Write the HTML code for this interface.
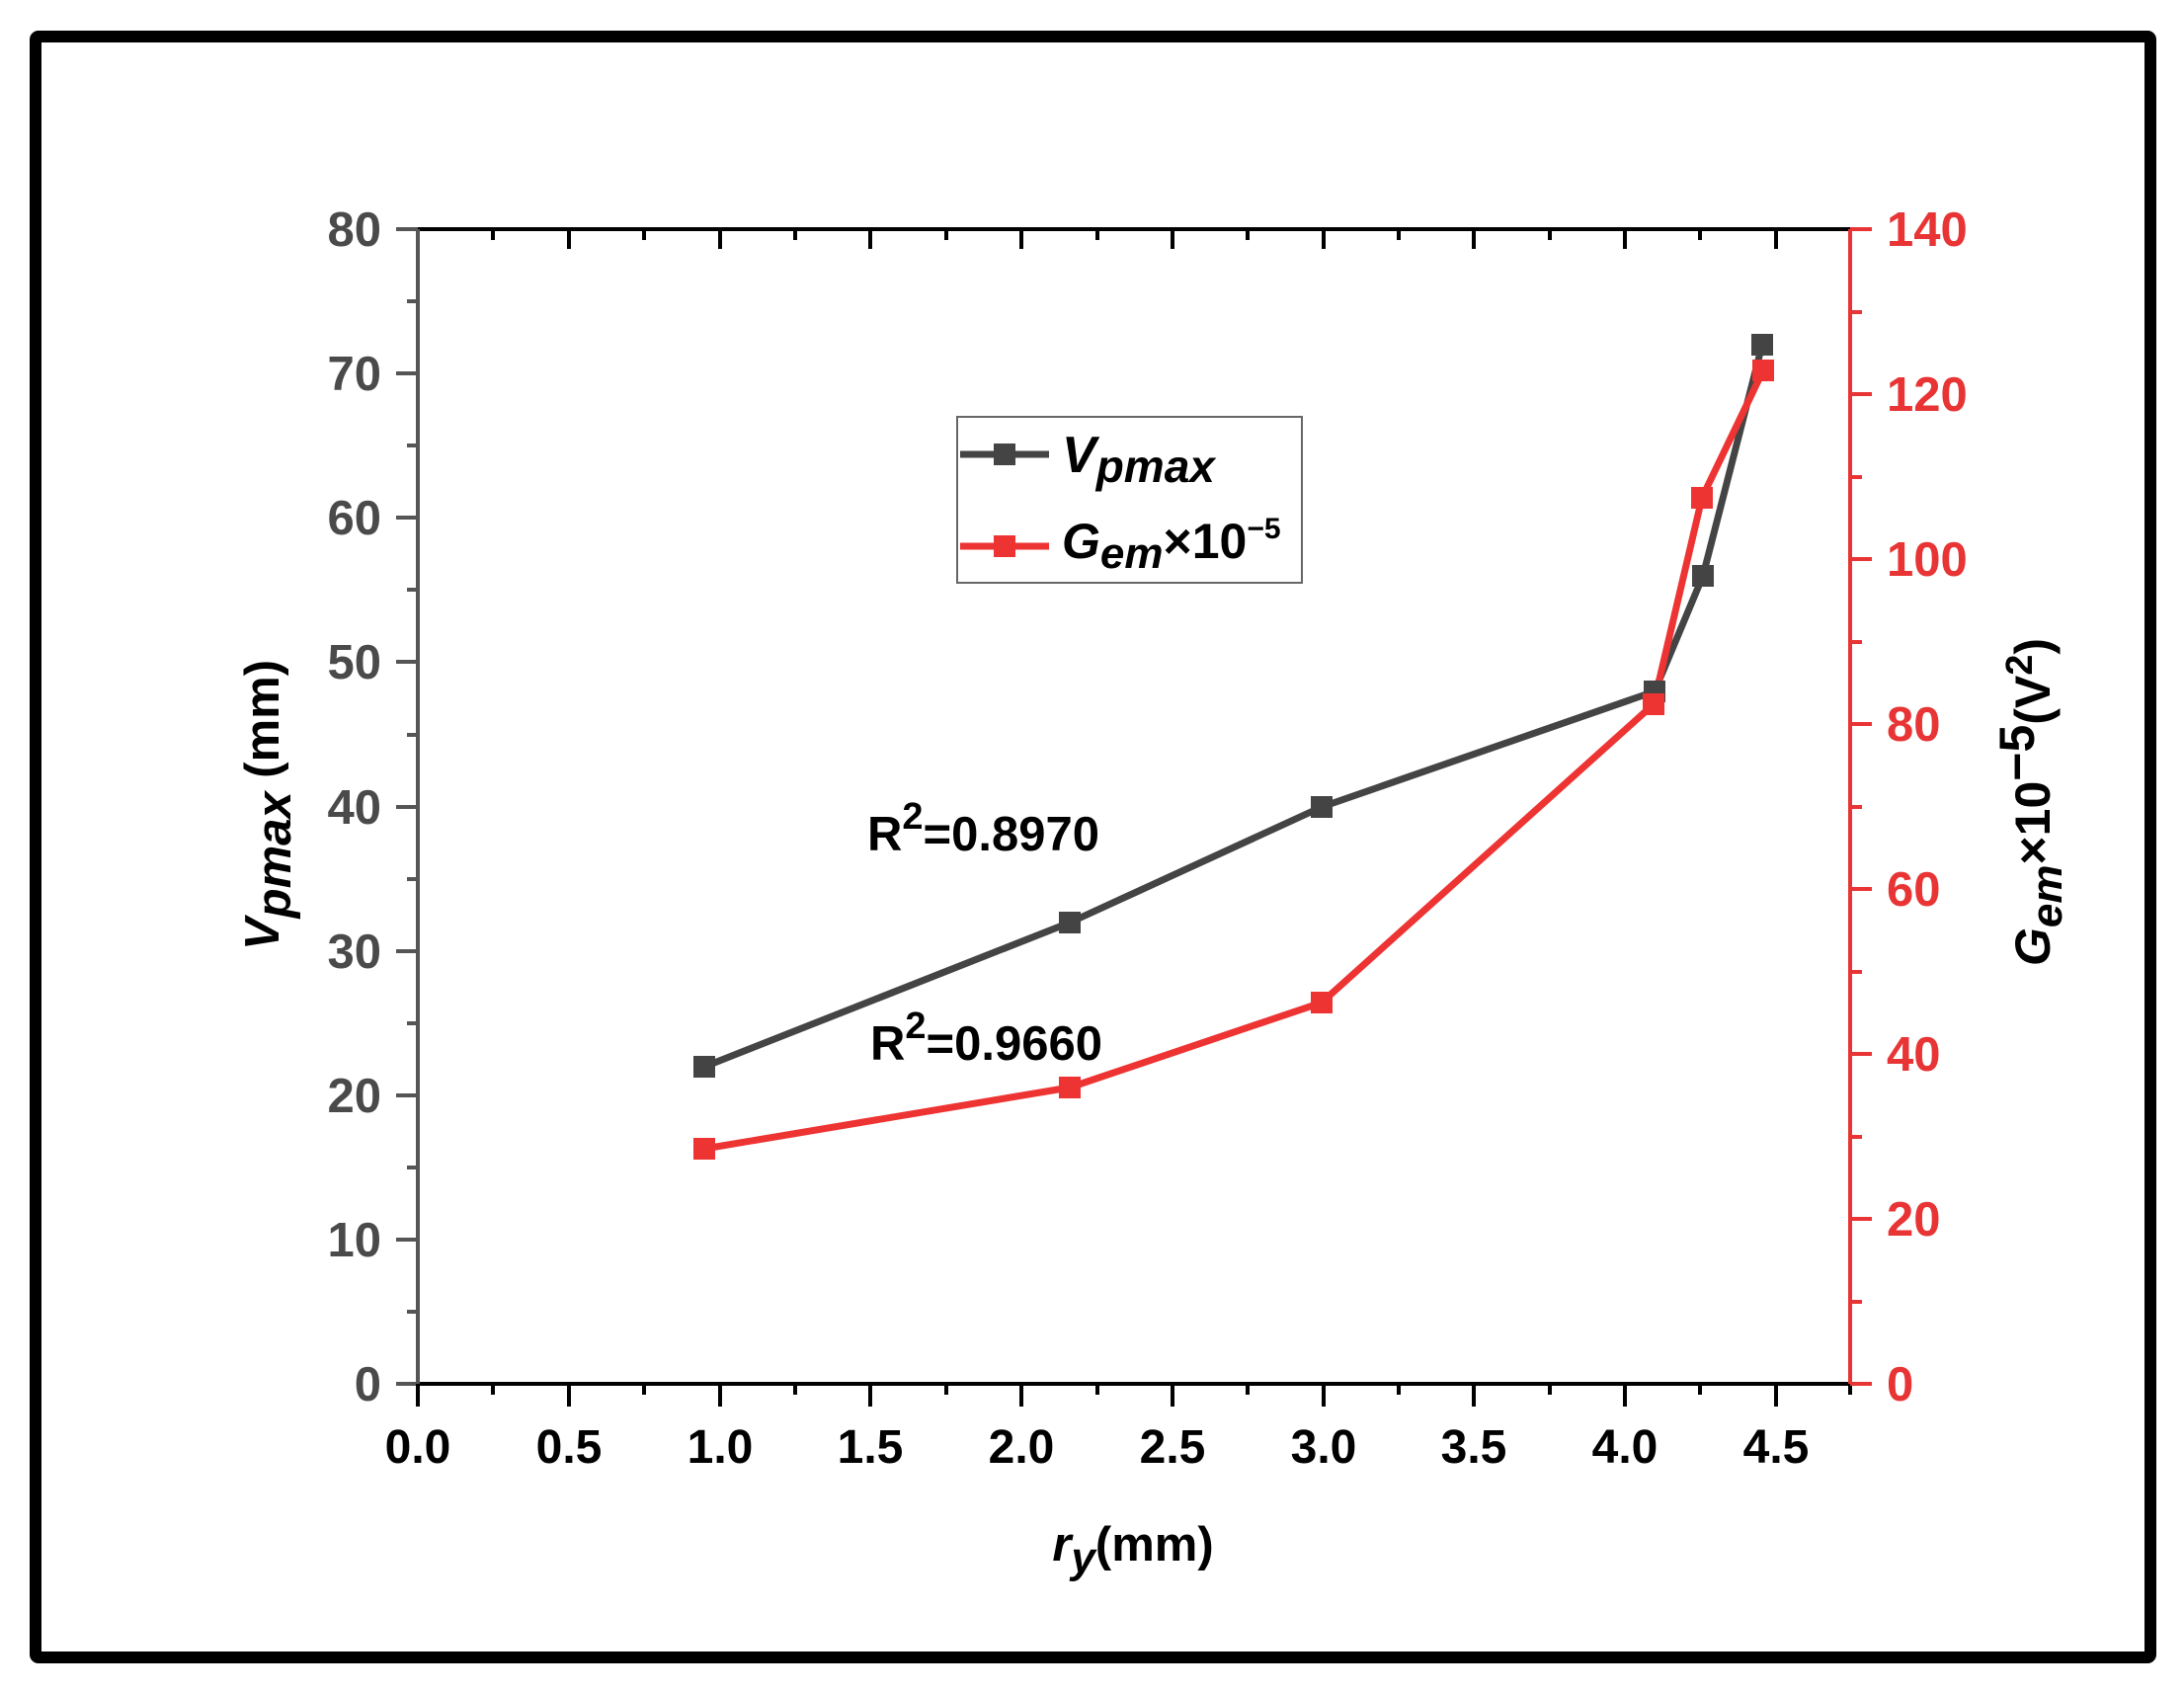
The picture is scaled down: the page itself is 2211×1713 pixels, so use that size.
<!DOCTYPE html>
<html><head><meta charset="utf-8"><style>html,body{margin:0;padding:0;background:#fff}svg{display:block}</style></head>
<body>
<svg width="2211" height="1713" viewBox="0 0 2211 1713" xmlns="http://www.w3.org/2000/svg" font-family="Liberation Sans, Arial, sans-serif" font-weight="bold">
<rect x="0" y="0" width="2211" height="1713" fill="#fff"/>
<rect x="36" y="37" width="2141" height="1641" fill="none" stroke="#000" stroke-width="12" rx="3"/>

<g stroke-width="4">
<line x1="423" y1="232" x2="1873" y2="232" stroke="#000"/>
<line x1="423" y1="1401" x2="1873" y2="1401" stroke="#000"/>
<line x1="423" y1="232" x2="423" y2="1401" stroke="#555"/>
<line x1="1873" y1="232" x2="1873" y2="1401" stroke="#e83434"/>
</g>

<g stroke="#555" stroke-width="4">
<line x1="401" y1="232" x2="423" y2="232"/><line x1="401" y1="378" x2="423" y2="378"/><line x1="401" y1="524" x2="423" y2="524"/><line x1="401" y1="670" x2="423" y2="670"/><line x1="401" y1="817" x2="423" y2="817"/><line x1="401" y1="963" x2="423" y2="963"/><line x1="401" y1="1109" x2="423" y2="1109"/><line x1="401" y1="1255" x2="423" y2="1255"/><line x1="401" y1="1401" x2="423" y2="1401"/>
<line x1="412" y1="305" x2="423" y2="305"/><line x1="412" y1="451" x2="423" y2="451"/><line x1="412" y1="597" x2="423" y2="597"/><line x1="412" y1="744" x2="423" y2="744"/><line x1="412" y1="890" x2="423" y2="890"/><line x1="412" y1="1036" x2="423" y2="1036"/><line x1="412" y1="1182" x2="423" y2="1182"/><line x1="412" y1="1328" x2="423" y2="1328"/>
</g>
<g fill="#4a4a4a" font-size="49" text-anchor="end">
<text x="386" y="249">80</text><text x="386" y="395">70</text><text x="386" y="541">60</text><text x="386" y="687">50</text><text x="386" y="834">40</text><text x="386" y="980">30</text><text x="386" y="1126">20</text><text x="386" y="1272">10</text><text x="386" y="1418">0</text>
</g>

<g stroke="#000" stroke-width="4">
<line x1="423" y1="1401" x2="423" y2="1424"/><line x1="576" y1="1401" x2="576" y2="1424"/><line x1="729" y1="1401" x2="729" y2="1424"/><line x1="881" y1="1401" x2="881" y2="1424"/><line x1="1034" y1="1401" x2="1034" y2="1424"/><line x1="1187" y1="1401" x2="1187" y2="1424"/><line x1="1340" y1="1401" x2="1340" y2="1424"/><line x1="1492" y1="1401" x2="1492" y2="1424"/><line x1="1645" y1="1401" x2="1645" y2="1424"/><line x1="1798" y1="1401" x2="1798" y2="1424"/>
<line x1="499" y1="1401" x2="499" y2="1412"/><line x1="652" y1="1401" x2="652" y2="1412"/><line x1="805" y1="1401" x2="805" y2="1412"/><line x1="958" y1="1401" x2="958" y2="1412"/><line x1="1111" y1="1401" x2="1111" y2="1412"/><line x1="1263" y1="1401" x2="1263" y2="1412"/><line x1="1416" y1="1401" x2="1416" y2="1412"/><line x1="1569" y1="1401" x2="1569" y2="1412"/><line x1="1721" y1="1401" x2="1721" y2="1412"/><line x1="1873" y1="1401" x2="1873" y2="1412"/>
<line x1="576" y1="232" x2="576" y2="252"/><line x1="729" y1="232" x2="729" y2="252"/><line x1="881" y1="232" x2="881" y2="252"/><line x1="1034" y1="232" x2="1034" y2="252"/><line x1="1187" y1="232" x2="1187" y2="252"/><line x1="1340" y1="232" x2="1340" y2="252"/><line x1="1492" y1="232" x2="1492" y2="252"/><line x1="1645" y1="232" x2="1645" y2="252"/><line x1="1798" y1="232" x2="1798" y2="252"/>
<line x1="499" y1="232" x2="499" y2="243"/><line x1="652" y1="232" x2="652" y2="243"/><line x1="805" y1="232" x2="805" y2="243"/><line x1="958" y1="232" x2="958" y2="243"/><line x1="1111" y1="232" x2="1111" y2="243"/><line x1="1263" y1="232" x2="1263" y2="243"/><line x1="1416" y1="232" x2="1416" y2="243"/><line x1="1569" y1="232" x2="1569" y2="243"/><line x1="1721" y1="232" x2="1721" y2="243"/>
</g>
<g fill="#000" font-size="48" text-anchor="middle">
<text x="423" y="1481">0.0</text><text x="576" y="1481">0.5</text><text x="729" y="1481">1.0</text><text x="881" y="1481">1.5</text><text x="1034" y="1481">2.0</text><text x="1187" y="1481">2.5</text><text x="1340" y="1481">3.0</text><text x="1492" y="1481">3.5</text><text x="1645" y="1481">4.0</text><text x="1798" y="1481">4.5</text>
</g>

<g stroke="#e83434" stroke-width="4">
<line x1="1873" y1="232" x2="1895" y2="232"/><line x1="1873" y1="399" x2="1895" y2="399"/><line x1="1873" y1="566" x2="1895" y2="566"/><line x1="1873" y1="733" x2="1895" y2="733"/><line x1="1873" y1="900" x2="1895" y2="900"/><line x1="1873" y1="1067" x2="1895" y2="1067"/><line x1="1873" y1="1234" x2="1895" y2="1234"/><line x1="1873" y1="1401" x2="1895" y2="1401"/>
<line x1="1873" y1="316" x2="1885" y2="316"/><line x1="1873" y1="483" x2="1885" y2="483"/><line x1="1873" y1="650" x2="1885" y2="650"/><line x1="1873" y1="817" x2="1885" y2="817"/><line x1="1873" y1="984" x2="1885" y2="984"/><line x1="1873" y1="1151" x2="1885" y2="1151"/><line x1="1873" y1="1318" x2="1885" y2="1318"/>
</g>
<g fill="#e83434" font-size="49">
<text x="1910" y="249">140</text><text x="1910" y="416">120</text><text x="1910" y="583">100</text><text x="1910" y="750">80</text><text x="1910" y="917">60</text><text x="1910" y="1084">40</text><text x="1910" y="1251">20</text><text x="1910" y="1418">0</text>
</g>

<polyline points="713,1080 1083,934 1338,817 1675,700 1724,583 1784,349" fill="none" stroke="#444" stroke-width="7" stroke-linejoin="round"/>
<polyline points="713,1163 1083,1101 1338,1015 1674,713 1723,504 1785,375" fill="none" stroke="#ee3333" stroke-width="7" stroke-linejoin="round"/>
<g fill="#444">
<rect x="702" y="1069" width="22" height="22"/><rect x="1072" y="923" width="22" height="22"/><rect x="1327" y="806" width="22" height="22"/><rect x="1664" y="689" width="22" height="22"/><rect x="1713" y="572" width="22" height="22"/><rect x="1773" y="338" width="22" height="22"/>
</g>
<g fill="#ee3333">
<rect x="702" y="1152" width="22" height="22"/><rect x="1072" y="1090" width="22" height="22"/><rect x="1327" y="1004" width="22" height="22"/><rect x="1663" y="702" width="22" height="22"/><rect x="1712" y="493" width="22" height="22"/><rect x="1774" y="364" width="22" height="22"/>
</g>

<rect x="969" y="422" width="349" height="168" fill="#fff" stroke="#666" stroke-width="2"/>
<line x1="972" y1="460" x2="1062" y2="460" stroke="#444" stroke-width="7"/>
<rect x="1006" y="449" width="22" height="22" fill="#444"/>
<line x1="972" y1="553" x2="1062" y2="553" stroke="#ee3333" stroke-width="7"/>
<rect x="1006" y="542" width="22" height="22" fill="#ee3333"/>
<text x="1075" y="478" font-size="52" font-style="italic" fill="#000">V<tspan font-size="46" dy="10">pmax</tspan></text>
<text x="1075" y="565" font-size="50" font-style="italic" fill="#000">G<tspan font-size="44" dy="10">em</tspan><tspan font-style="normal" dy="-10">×10</tspan><tspan font-style="normal" font-size="30" dy="-20">−5</tspan></text>

<text x="878" y="861" font-size="49" fill="#000">R<tspan font-size="38" dy="-22">2</tspan><tspan dy="22">=0.8970</tspan></text>
<text x="881" y="1073" font-size="49" fill="#000">R<tspan font-size="38" dy="-22">2</tspan><tspan dy="22">=0.9660</tspan></text>

<text x="1147" y="1580" font-size="49" fill="#000" text-anchor="middle"><tspan font-style="italic">r</tspan><tspan font-style="italic" font-size="44" dy="12">y</tspan><tspan dy="-12">(mm)</tspan></text>
<text transform="translate(282,815) rotate(-90)" font-size="49" fill="#000" text-anchor="middle"><tspan font-style="italic">V</tspan><tspan font-style="italic" dy="12">pmax</tspan><tspan dy="-12"> (mm)</tspan></text>
<text transform="translate(2075,812) rotate(-90)" font-size="50" fill="#000" text-anchor="middle"><tspan font-style="italic">G</tspan><tspan font-style="italic" font-size="44" dy="12">em</tspan><tspan dy="-12">×10</tspan><tspan dy="-16">−5</tspan><tspan dy="16">(V</tspan><tspan font-size="38" dy="-18">2</tspan><tspan dy="18">)</tspan></text>
</svg>
</body></html>
